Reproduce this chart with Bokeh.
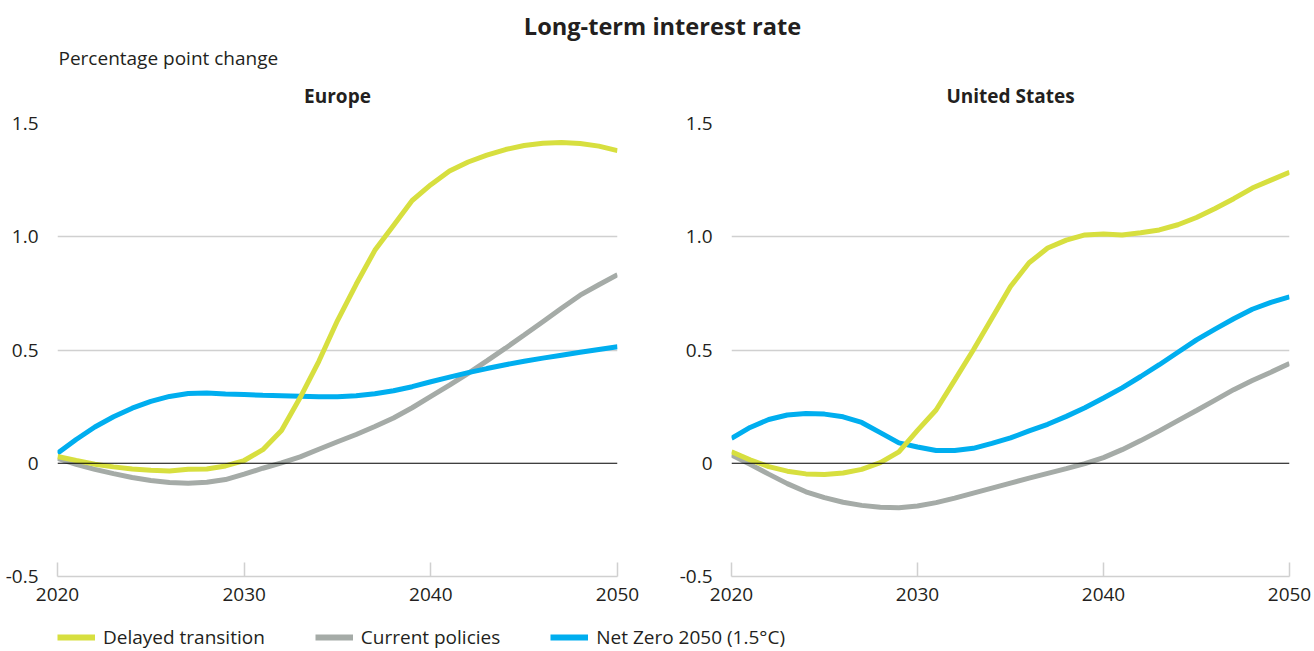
from bokeh.plotting import figure
from bokeh.models import Range1d, FixedTicker, Span, Label, Legend, LegendItem, CustomJSTickFormatter
from bokeh.layouts import column, row
from bokeh.embed import file_html
from bokeh.resources import INLINE

# ---------------- data ----------------
years = list(range(2020, 2051))

eu_delayed = [0.03, 0.012, -0.004, -0.016, -0.025, -0.031, -0.034, -0.026, -0.025, -0.012,
              0.012, 0.06, 0.145, 0.29, 0.45, 0.63, 0.79, 0.94, 1.05, 1.16,
              1.23, 1.29, 1.33, 1.36, 1.385, 1.403, 1.413, 1.416, 1.412, 1.40, 1.38]
eu_current = [0.022, -0.005, -0.027, -0.046, -0.063, -0.076, -0.085, -0.088, -0.084, -0.072,
              -0.048, -0.022, 0.002, 0.028, 0.062, 0.095, 0.127, 0.162, 0.20, 0.245,
              0.295, 0.345, 0.397, 0.452, 0.508, 0.566, 0.625, 0.684, 0.742, 0.788, 0.832]
eu_netzero = [0.044, 0.105, 0.16, 0.205, 0.243, 0.273, 0.295, 0.308, 0.31, 0.306,
              0.303, 0.30, 0.298, 0.296, 0.294, 0.294, 0.298, 0.307, 0.32, 0.338,
              0.36, 0.38, 0.40, 0.418, 0.435, 0.45, 0.464, 0.477, 0.49, 0.502, 0.514]

us_delayed = [0.051, 0.015, -0.015, -0.035, -0.047, -0.05, -0.043, -0.027, 0.003, 0.05,
              0.145, 0.235, 0.367, 0.50, 0.64, 0.78, 0.885, 0.95, 0.985, 1.008,
              1.012, 1.008, 1.018, 1.03, 1.053, 1.085, 1.125, 1.168, 1.215, 1.25, 1.285]
us_current = [0.037, -0.005, -0.048, -0.09, -0.126, -0.152, -0.172, -0.186, -0.194, -0.196,
              -0.189, -0.174, -0.154, -0.132, -0.11, -0.088, -0.066, -0.045, -0.024, -0.002,
              0.025, 0.06, 0.10, 0.143, 0.188, 0.233, 0.279, 0.325, 0.365, 0.402, 0.44]
us_netzero = [0.11, 0.158, 0.193, 0.213, 0.22, 0.217, 0.205, 0.18, 0.135, 0.09,
              0.072, 0.056, 0.056, 0.066, 0.088, 0.112, 0.143, 0.172, 0.207, 0.245,
              0.288, 0.333, 0.383, 0.435, 0.49, 0.545, 0.592, 0.638, 0.68, 0.71, 0.735]

panel_titles = ["Europe", "United States"]
series_names = ["Delayed transition", "Current policies", "Net Zero 2050 (1.5°C)"]
x_ticks = [2020, 2030, 2040, 2050]
y_ticks = [-0.5, 0, 0.5, 1.0, 1.5]
grid_ticks = [0.5, 1.0, 1.5]

# ---------------- style ----------------
FONT = "Open Sans"
TXT = "#231f20"
C_DELAYED = "#d7df3f"
C_CURRENT = "#a5aba7"
C_NETZERO = "#00aeef"
C_GRID = "#d0d0d0"
FS = "19px"


def panel(delayed, current, netzero, width, bl, br):
    p = figure(width=width, height=510, x_range=Range1d(2020, 2050), y_range=Range1d(-0.5, 1.5),
               output_backend="svg", toolbar_location=None, title=None,
               min_border_left=bl, min_border_right=br, min_border_top=13, min_border_bottom=44)
    p.outline_line_color = None

    p.xgrid.visible = False
    p.ygrid.ticker = FixedTicker(ticks=grid_ticks)
    p.ygrid.grid_line_color = C_GRID
    p.ygrid.grid_line_width = 1.5

    p.yaxis.ticker = FixedTicker(ticks=y_ticks)
    p.yaxis.formatter = CustomJSTickFormatter(code="return tick == 0 ? '0' : tick.toFixed(1);")
    p.yaxis.axis_line_color = None
    p.yaxis.major_tick_line_color = None
    p.yaxis.minor_tick_line_color = None
    p.yaxis.major_label_standoff = 13

    p.xaxis.ticker = FixedTicker(ticks=x_ticks)
    p.xaxis.axis_line_color = C_GRID
    p.xaxis.axis_line_width = 1.5
    p.xaxis.major_tick_line_color = C_GRID
    p.xaxis.major_tick_line_width = 1.5
    p.xaxis.major_tick_in = 14
    p.xaxis.major_tick_out = 0
    p.xaxis.minor_tick_line_color = None
    p.xaxis.major_label_standoff = 11

    for ax in (p.xaxis, p.yaxis):
        ax.major_label_text_font = FONT
        ax.major_label_text_font_size = FS
        ax.major_label_text_color = TXT

    p.add_layout(Span(location=0, dimension="width", line_color="black", line_width=1.2))

    p.line(years, current, line_color=C_CURRENT, line_width=5)
    p.line(years, netzero, line_color=C_NETZERO, line_width=5)
    p.line(years, delayed, line_color=C_DELAYED, line_width=5)
    return p


p1 = panel(eu_delayed, eu_current, eu_netzero, 660, 57, 43)
p2 = panel(us_delayed, us_current, us_netzero, 654, 71, 25)

# header (main title, unit note, panel titles)
hdr = figure(width=1314, height=110, x_range=Range1d(0, 1314), y_range=Range1d(110, 0),
             output_backend="svg", toolbar_location=None, min_border=0, title=None,
             x_axis_location=None, y_axis_location=None)
hdr.grid.visible = False
hdr.outline_line_color = None
hdr.add_layout(Label(x=662, y=25.5, text="Long-term interest rate", text_align="center",
                     text_baseline="alphabetic", text_font=FONT, text_font_style="bold",
                     text_font_size="23.6px", text_color=TXT))
hdr.add_layout(Label(x=58, y=57, text="Percentage point change", text_align="left",
                     text_baseline="alphabetic", text_font=FONT, text_font_size=FS, text_color=TXT))
for cx, t in zip([337, 1010], panel_titles):
    hdr.add_layout(Label(x=cx, y=95, text=t, text_align="center", text_baseline="alphabetic",
                         text_font=FONT, text_font_style="bold", text_font_size=FS, text_color=TXT))

# legend
leg = figure(width=1314, height=31, x_range=Range1d(0, 1), y_range=Range1d(0, 1),
             output_backend="svg", toolbar_location=None, min_border=0, title=None,
             x_axis_location=None, y_axis_location=None)
leg.grid.visible = False
leg.outline_line_color = None
r1 = leg.line(x=[5, 6], y=[5, 6], line_color=C_DELAYED, line_width=6)
r2 = leg.line(x=[5, 6], y=[5, 6], line_color=C_CURRENT, line_width=6)
r3 = leg.line(x=[5, 6], y=[5, 6], line_color=C_NETZERO, line_width=6)
legend = Legend(items=[LegendItem(label=series_names[0], renderers=[r1]),
                       LegendItem(label=series_names[1], renderers=[r2]),
                       LegendItem(label=series_names[2], renderers=[r3])],
                orientation="horizontal", location=(57, 1), glyph_width=38, glyph_height=18,
                label_height=18, label_standoff=8, spacing=50, padding=0, margin=0,
                border_line_color=None, background_fill_alpha=0,
                label_text_font=FONT, label_text_font_size=FS, label_text_color=TXT)
leg.add_layout(legend)

layout = column(hdr, row(p1, p2), leg)
open("out.html", "w").write(file_html(layout, INLINE))
